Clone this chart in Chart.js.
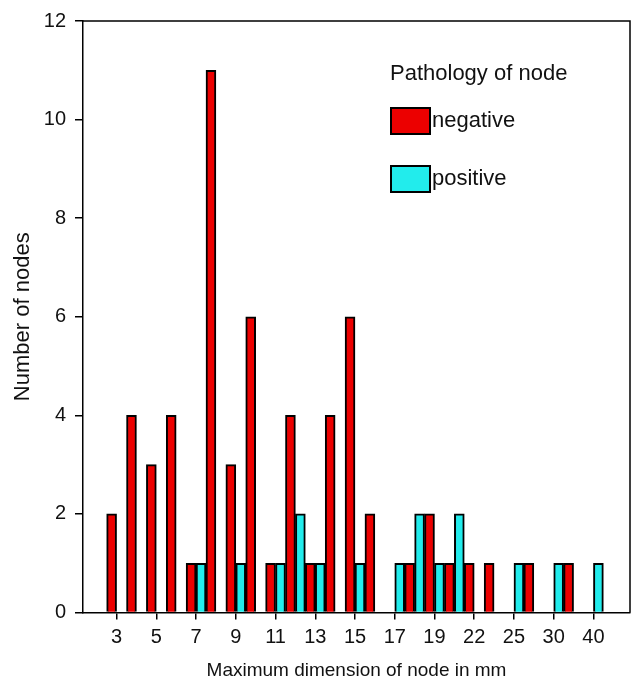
<!DOCTYPE html>
<html>
<head>
<meta charset="utf-8">
<script src="https://cdn.jsdelivr.net/npm/chart.js@4"></script>
<style>
  html, body { margin: 0; padding: 0; background: #fff; }
  canvas { display: block; }
</style>
</head>
<body>
<canvas id="c" width="635" height="682"></canvas>
<script>
// ---- data ----
const categories = ['3','4','5','6','7','8','9','10','11','12','13','14','15','16','17','18','19','20','22','24','25','27','30','35','40'];
const negativeCounts = [2,4,3,4,1,11,3,6,1,4,1,4,6,2,0,1,2,1,1,1,0,1,0,1,0];
const positiveCounts = [0,0,0,0,1,0,1,0,1,2,1,0,1,0,1,2,1,2,0,0,1,0,1,0,1];
const yTicks = [0,2,4,6,8,10,12];
const seriesNames = ['negative','positive'];
const legendTitle = 'Pathology of node';

const FONT = '"Liberation Sans", Arial, sans-serif';
const RED = '#ec0000';
const CYAN = '#22ecec';

const toPoints = arr => arr.map((v, i) => ({ x: i, y: v }));

const boxPlugin = {
  id: 'box',
  afterDraw(chart) {
    const { ctx, chartArea: a } = chart;
    ctx.save();
    ctx.strokeStyle = '#000';
    ctx.lineWidth = 1.5;
    ctx.beginPath();
    ctx.moveTo(a.left, a.top);
    ctx.lineTo(a.right, a.top);
    ctx.lineTo(a.right, a.bottom);
    ctx.stroke();
    ctx.restore();
  }
};

const legendPlugin = {
  id: 'insideLegend',
  afterDraw(chart) {
    const { ctx } = chart;
    ctx.save();
    ctx.font = '22px ' + FONT;
    ctx.fillStyle = '#111';
    ctx.textBaseline = 'middle';
    ctx.textAlign = 'left';
    ctx.fillText(legendTitle, 390, 74);
    const rows = [121, 179];
    chart.data.datasets.forEach((ds, i) => {
      const y = rows[i];
      ctx.fillStyle = ds.backgroundColor;
      ctx.fillRect(391, y - 13, 39, 26);
      ctx.strokeStyle = '#000';
      ctx.lineWidth = 2;
      ctx.strokeRect(391, y - 13, 39, 26);
      ctx.fillStyle = '#111';
      ctx.fillText(ds.label, 432, y);
    });
    ctx.restore();
  }
};

new Chart(document.getElementById('c'), {
  type: 'bar',
  data: {
    datasets: [
      { label: seriesNames[0], data: toPoints(negativeCounts), backgroundColor: RED, borderColor: '#000', borderWidth: 2 },
      { label: seriesNames[1], data: toPoints(positiveCounts), backgroundColor: CYAN, borderColor: '#000', borderWidth: 2 }
    ]
  },
  options: {
    responsive: false,
    animation: false,
    devicePixelRatio: 1,
    layout: { padding: { top: 18, right: 5, left: 0, bottom: 0 } },
    datasets: { bar: { categoryPercentage: 1.0, barPercentage: 1.0 } },
    plugins: { legend: { display: false }, tooltip: { enabled: false } },
    scales: {
      x: {
        type: 'linear',
        offset: false,
        min: -1.69,
        max: 25.84,
        afterBuildTicks(axis) {
          axis.ticks = categories.map((c, i) => ({ value: i })).filter(t => t.value % 2 === 0);
        },
        afterFit(axis) { axis.height = 69.5; },
        ticks: {
          autoSkip: false,
          maxRotation: 0,
          padding: 6,
          color: '#111',
          font: { family: FONT, size: 20 },
          callback: v => categories[v]
        },
        grid: { offset: false, drawOnChartArea: false, drawTicks: true, tickLength: 7, color: '#000', lineWidth: 1.5 },
        border: { color: '#000', width: 1.5 },
        title: { display: true, text: 'Maximum dimension of node in mm', color: '#111', font: { family: FONT, size: 19 }, padding: { top: 0, bottom: 0 } }
      },
      y: {
        min: 0,
        max: 12,
        afterBuildTicks(axis) { axis.ticks = yTicks.map(v => ({ value: v })); },
        afterFit(axis) { axis.width = 83; },
        ticks: { padding: 9, color: '#111', font: { family: FONT, size: 20 } },
        grid: { drawOnChartArea: false, drawTicks: true, tickLength: 8, color: '#000', lineWidth: 1.5 },
        border: { color: '#000', width: 1.5 },
        title: { display: true, text: 'Number of nodes', color: '#111', font: { family: FONT, size: 22 }, padding: { top: 10, bottom: 0 } }
      }
    }
  },
  plugins: [boxPlugin, legendPlugin]
});
</script>
</body>
</html>
